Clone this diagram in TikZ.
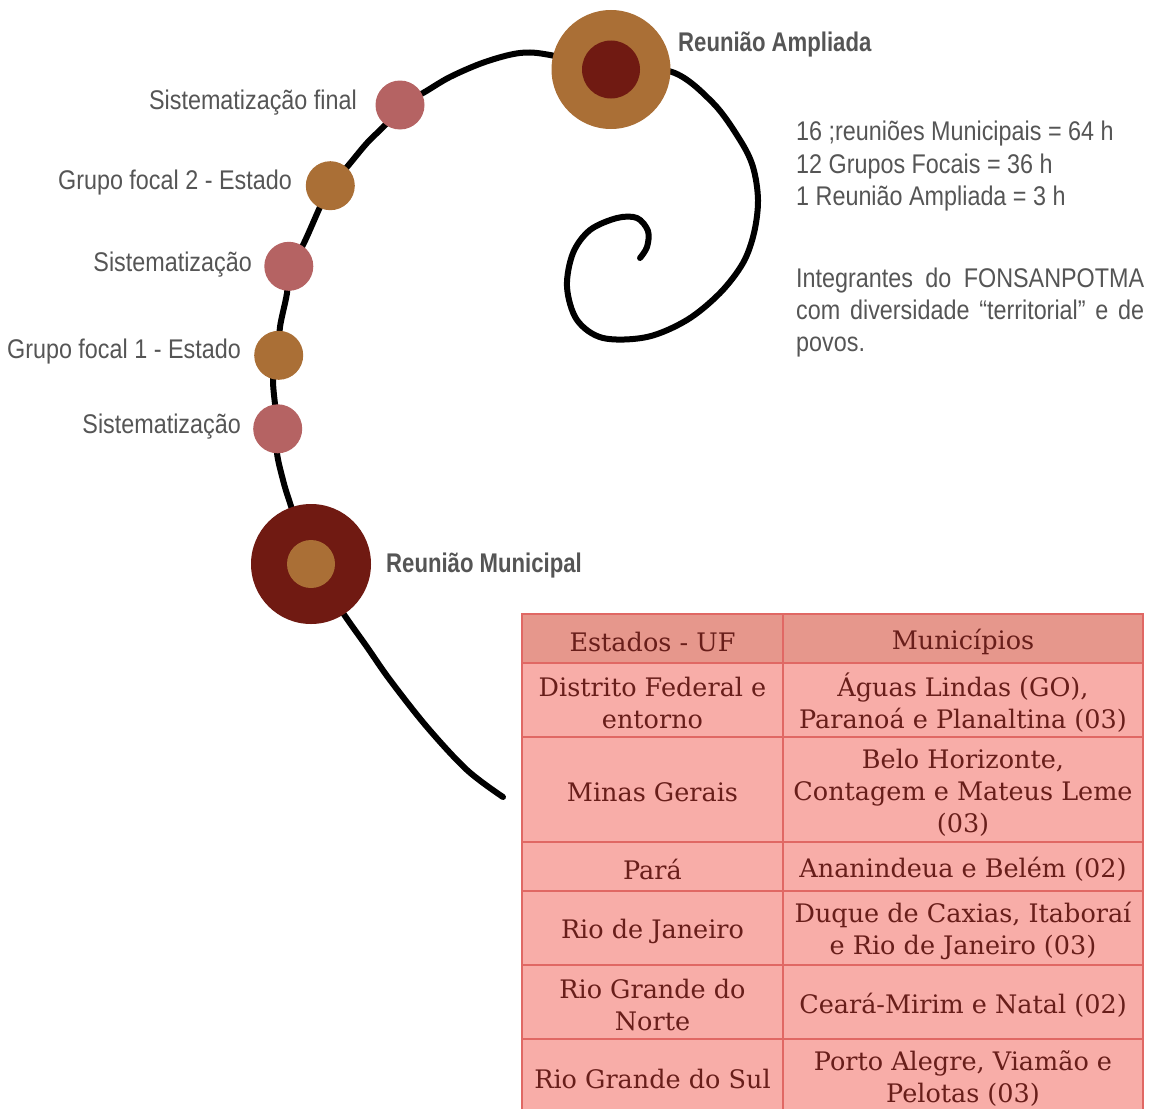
\documentclass[tikz,border=0pt]{standalone}
\usepackage{fontspec}
\setmainfont{Liberation Sans}[FakeStretch=0.865]
\newfontfamily\headfont{Liberation Sans}[FakeStretch=0.82]
\newfontfamily\tabfont{DejaVu Serif}
\usetikzlibrary{backgrounds}

\definecolor{ink}{RGB}{85,85,85}
\definecolor{rose}{RGB}{181,99,99}
\definecolor{ochre}{RGB}{170,111,54}
\definecolor{maroon}{RGB}{112,26,18}
\definecolor{gridc}{RGB}{224,104,100}
\definecolor{headc}{RGB}{230,151,140}
\definecolor{rowc}{RGB}{248,173,168}
\definecolor{tabink}{RGB}{104,30,26}

\begin{document}
\begin{tikzpicture}[x=1pt,y=-1pt,
  dot/.style={circle, inner sep=0pt, minimum size=49pt, draw=none},
  sist/.style={dot, fill=rose},
  grupo/.style={dot, fill=ochre},
  lab/.style={text=ink, inner sep=0pt, text height=19pt, text depth=0pt,
              font=\fontsize{27}{32}\selectfont},
  biglab/.style={lab, text height=19pt, font=\headfont\bfseries\fontsize{27}{32}\selectfont},
  spiral/.style={line width=6pt, line cap=round, line join=round, black},
  cellA/.style={draw=gridc, line width=2.5pt, fill=rowc, inner sep=0pt, minimum width=261pt},
  cellB/.style={cellA, minimum width=360pt},
  headrow/.style={fill=headc},
  celltext/.style={inner sep=0pt, align=center, text=tabink,
                   font=\tabfont\fontsize{25.5}{32}\selectfont}
]
\useasboundingbox (0,0) rectangle (1155,1108);

% --- meetings along the spiral ---
\node[circle, inner sep=0pt, minimum size=119pt, fill=ochre] (ra) at (611,69.5) {};
\node[circle, inner sep=0pt, minimum size=58pt, fill=maroon] (rai) at (ra.center) {};

\node[circle, inner sep=0pt, minimum size=120pt, fill=maroon] (rm) at (311,564) {};
\node[circle, inner sep=0pt, minimum size=48pt, fill=ochre] (rmi) at (rm.center) {};

\node[sist]  (sf) at (400,105) {};
\node[grupo] (g2) at (330.3,185.7) {};
\node[sist]  (s2) at (288.8,266.3) {};
\node[grupo] (g1) at (278.7,355.3) {};
\node[sist]  (s1) at (277.7,428.8) {};

\coordinate (tail) at (503,797);
\coordinate (core) at (640,258);

% --- the spiral line, behind the circles ---
\begin{scope}[on background layer]
\draw[spiral] plot[smooth, tension=0.55] coordinates {
  (tail) (467,770) (427,727) (390,680) (367,647) (343,613) (rm.center)
  (290,503) (283,480) (277,453) (s1.center) (273,380) (g1.center)
  (280,327) (287,293) (s2.center) (302,247) (320,207) (g2.center)
  (347,167) (367,143) (387,123) (sf.center) (423,93) (450,77)
  (485,62) (520,53) (550,55) (ra.center) (672,72) (713,103) (740,140)
  (753,167) (758,200) (754,233) (743,263) (720,293) (687,320)
  (647,337) (603,338) (577,320) (567,287) (573,253) (590,230)
  (617,218) (637,218) (648,231) (647,247) (core)};
\end{scope}

% --- labels ---
\node[lab, anchor=east] (lsf) at (357,100) {Sistematização final};
\node[lab, anchor=east] (lg2) at (292,180) {Grupo focal 2 - Estado};
\node[lab, anchor=east] (ls2) at (252,262) {Sistematização};
\node[lab, anchor=east] (lg1) at (241,349) {Grupo focal 1 - Estado};
\node[lab, anchor=east] (ls1) at (241,424) {Sistematização};

\node[biglab, anchor=west] (lra) at (678,42) {Reunião Ampliada};
\node[biglab, anchor=west] (lrm) at (386,563) {Reunião Municipal};

% --- totals ---
\node[lab, anchor=west] (t1) at (796,131) {16 ;reuniões Municipais = 64 h};
\node[lab, anchor=west] (t2) at (796,164) {12 Grupos Focais = 36 h};
\node[lab, anchor=west] (t3) at (796,196) {1 Reunião Ampliada = 3 h};

\node[lab, anchor=west] (p1) at (796,278) {\makebox[348pt][s]{Integrantes do FONSANPOTMA}};
\node[lab, anchor=west] (p2) at (796,310) {\makebox[348pt][s]{com diversidade “territorial” e de}};
\node[lab, anchor=west] (p3) at (796,342) {povos.};

% --- table of states and municipalities ---
\node[cellA, headrow, minimum height=49pt] (h1) at (652.5,638.5) {};
\node[cellB, headrow, minimum height=49pt] (h2) at (963,638.5) {};
\node[cellA, minimum height=74pt]  (a1) at (652.5,700) {};
\node[cellB, minimum height=74pt]  (b1) at (963,700) {};
\node[cellA, minimum height=105pt] (a2) at (652.5,789.5) {};
\node[cellB, minimum height=105pt] (b2) at (963,789.5) {};
\node[cellA, minimum height=49pt]  (a3) at (652.5,866.5) {};
\node[cellB, minimum height=49pt]  (b3) at (963,866.5) {};
\node[cellA, minimum height=74pt]  (a4) at (652.5,928) {};
\node[cellB, minimum height=74pt]  (b4) at (963,928) {};
\node[cellA, minimum height=74pt]  (a5) at (652.5,1002) {};
\node[cellB, minimum height=74pt]  (b5) at (963,1002) {};
\node[cellA, minimum height=74pt]  (a6) at (652.5,1076) {};
\node[cellB, minimum height=74pt]  (b6) at (963,1076) {};

\node[celltext] (h1t) at ([yshift=-3pt]h1.center) {Estados - UF};
\node[celltext] (h2t) at ([yshift=-3pt]h2.center) {Municípios};
\node[celltext] (a1t) at ([yshift=-3pt]a1.center) {Distrito Federal e\\entorno};
\node[celltext] (b1t) at ([yshift=-3pt]b1.center) {Águas Lindas (GO),\\Paranoá e Planaltina (03)};
\node[celltext] (a2t) at ([yshift=-3pt]a2.center) {Minas Gerais};
\node[celltext] (b2t) at ([yshift=-3pt]b2.center) {Belo Horizonte,\\Contagem e Mateus Leme\\(03)};
\node[celltext] (a3t) at ([yshift=-3pt]a3.center) {Pará};
\node[celltext] (b3t) at ([yshift=-3pt]b3.center) {Ananindeua e Belém (02)};
\node[celltext] (a4t) at ([yshift=-3pt]a4.center) {Rio de Janeiro};
\node[celltext] (b4t) at ([yshift=-3pt]b4.center) {Duque de Caxias, Itaboraí\\e Rio de Janeiro (03)};
\node[celltext] (a5t) at ([yshift=-3pt]a5.center) {Rio Grande do\\Norte};
\node[celltext] (b5t) at ([yshift=-3pt]b5.center) {Ceará-Mirim e Natal (02)};
\node[celltext] (a6t) at ([yshift=-3pt]a6.center) {Rio Grande do Sul};
\node[celltext] (b6t) at ([yshift=-3pt]b6.center) {Porto Alegre, Viamão e\\Pelotas (03)};
\end{tikzpicture}
\end{document}
